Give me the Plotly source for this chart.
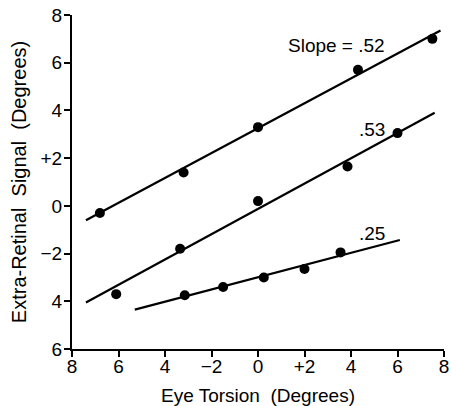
import plotly.graph_objects as go

# Data points (Eye torsion, extra-retinal signal)
x_top = [-6.8, -3.2, 0.0, 4.3, 7.5]
y_top = [-0.3, 1.4, 3.3, 5.7, 7.0]
x_mid = [-6.1, -3.35, 0.0, 3.85, 6.0]
y_mid = [-3.7, -1.8, 0.2, 1.65, 3.05]
x_bot = [-3.15, -1.5, 0.25, 2.0, 3.55]
y_bot = [-3.75, -3.4, -3.0, -2.65, -1.95]

# Fitted regression lines (end points)
fit_top_x = [-7.4, 7.85]
fit_top_y = [-0.6, 7.35]
fit_mid_x = [-7.4, 7.6]
fit_mid_y = [-4.05, 3.9]
fit_bot_x = [-5.3, 6.1]
fit_bot_y = [-4.35, -1.43]

slope_labels = ["Slope = .52", ".53", ".25"]
slope_label_x = [5.55, 5.55, 5.55]
slope_label_y = [6.2, 2.68, -1.68]

x_tickvals = [-8, -6, -4, -2, 0, 2, 4, 6, 8]
x_ticktext = ["8", "6", "4", "\u22122", "0", "+2", "4", "6", "8"]
y_tickvals = [8, 6, 4, 2, 0, -2, -4, -6]
y_ticktext = ["8", "6", "4", "+2", "0", "\u22122", "4", "6"]

font_family = "Liberation Sans, Arial, sans-serif"

fig = go.Figure()
for fx, fy in [(fit_top_x, fit_top_y), (fit_mid_x, fit_mid_y), (fit_bot_x, fit_bot_y)]:
    fig.add_trace(go.Scatter(x=fx, y=fy, mode="lines",
                             line=dict(color="black", width=2.2), showlegend=False))
for px, py in [(x_top, y_top), (x_mid, y_mid), (x_bot, y_bot)]:
    fig.add_trace(go.Scatter(x=px, y=py, mode="markers",
                             marker=dict(color="black", size=10), showlegend=False))

for t, lx, ly in zip(slope_labels, slope_label_x, slope_label_y):
    fig.add_annotation(x=lx, y=ly, text=t, showarrow=False,
                       font=dict(size=19, color="black", family=font_family),
                       xanchor="right", yanchor="bottom")

fig.update_xaxes(range=[-8, 8], tickvals=x_tickvals, ticktext=x_ticktext,
                 automargin=False, ticklabeloverflow="allow", ticklabelstandoff=-7,
                 showgrid=False, zeroline=False, showline=True, linecolor="black",
                 linewidth=2, ticks="outside", ticklen=6, tickwidth=2, tickcolor="black",
                 tickfont=dict(size=19, color="black", family=font_family),
                 title=dict(text="Eye Torsion  (Degrees)", standoff=14,
                            font=dict(size=19, color="black", family=font_family)))
fig.update_yaxes(range=[-6, 8], tickvals=y_tickvals, ticktext=y_ticktext,
                 automargin=False, ticklabeloverflow="allow", ticklabelstandoff=-2,
                 showgrid=False, zeroline=False, showline=True, linecolor="black",
                 linewidth=2, ticks="outside", ticklen=6, tickwidth=2, tickcolor="black",
                 tickfont=dict(size=19, color="black", family=font_family),
                 title=dict(text="Extra-Retinal  Signal  (Degrees)", standoff=9,
                            font=dict(size=20, color="black", family=font_family)))

fig.update_layout(width=451, height=406, margin=dict(l=72, r=7, t=15, b=57),
                  plot_bgcolor="white", paper_bgcolor="white")
fig.write_html("out.html", config={"displayModeBar": False},
               post_script="document.body.style.margin='0';document.body.style.overflow='hidden';")
